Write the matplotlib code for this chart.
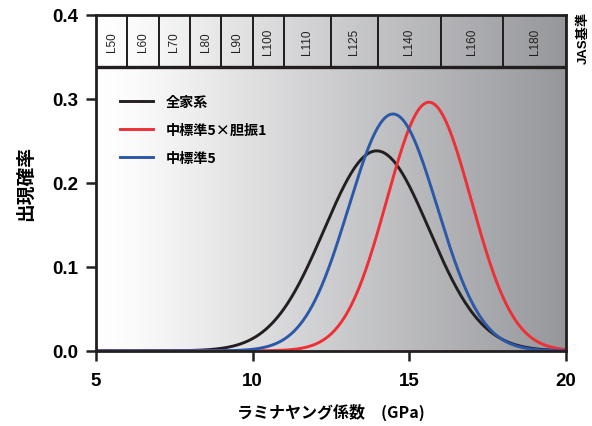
import numpy as np
import matplotlib.pyplot as plt
from matplotlib.colors import LinearSegmentedColormap
from matplotlib.patches import Rectangle

plt.rcParams['font.family'] = ['Liberation Sans', 'Noto Sans CJK JP', 'DejaVu Sans']

# JAS grade bands (GPa)
grades = ["L50", "L60", "L70", "L80", "L90", "L100", "L110", "L125", "L140", "L160", "L180"]
grade_edges = [5, 6, 7, 8, 9, 10, 11, 12.5, 14, 16, 18, 20]

# normal distributions
series_names = ["全家系", "中標準5×胆振1", "中標準5"]
series_mean = [13.96, 15.63, 14.48]
series_sd = [1.676, 1.348, 1.415]
series_colors = ["#231f20", "#ee2f36", "#2c58a8"]

xticks = [5, 10, 15, 20]
yticks = [0.0, 0.1, 0.2, 0.3, 0.4]

fig = plt.figure(figsize=(5.92, 4.27), dpi=100)
ax = fig.add_axes([0.162, 0.176, 0.794, 0.787])

# background gradient
cmap = LinearSegmentedColormap.from_list(
    "bg", [(0.0, "#ffffff"), (0.08, "#fbfbfb"), (1.0, "#96979b")])
grad = np.linspace(0, 1, 256).reshape(1, -1)
ax.imshow(grad, cmap=cmap, extent=[5, 20, 0, 0.4], aspect="auto",
          zorder=0, interpolation="bilinear")

band_lo = 0.338
for lab, x0, x1 in zip(grades, grade_edges[:-1], grade_edges[1:]):
    ax.add_patch(Rectangle((x0, band_lo), x1 - x0, 0.4 - band_lo, fill=False,
                           edgecolor="#231f20", lw=1.3, zorder=3))
    ax.text((x0 + x1) / 2, (band_lo + 0.4) / 2, lab, rotation=90,
            ha="center", va="center", fontsize=8.5, color="#231f20", zorder=4)
ax.plot([5, 20], [band_lo, band_lo], color="#231f20", lw=2.4, zorder=4)
ax.text(1.038, 0.935, "JAS基準", transform=ax.transAxes, rotation=90,
        ha="center", va="center", fontsize=9.5, fontweight="bold",
        family=["Liberation Sans", "Noto Sans CJK JP"])

x = np.linspace(5, 20, 600)
for name, mu, sd, c in zip(series_names, series_mean, series_sd, series_colors):
    y = np.exp(-0.5 * ((x - mu) / sd) ** 2) / (sd * np.sqrt(2 * np.pi))
    ax.plot(x, y, color=c, lw=2.1, label=name, zorder=2)

leg = ax.legend(loc="upper left", bbox_to_anchor=(0.025, 0.8), frameon=False,
                handlelength=2.3, handletextpad=0.9, labelspacing=1.0,
                prop={"family": ["Noto Sans CJK JP"], "weight": "bold", "size": 10.2})

ax.set_xlim(5, 20)
ax.set_ylim(0, 0.4)
ax.set_xticks(xticks)
ax.set_yticks(yticks)
ax.set_yticklabels([f"{v:.1f}" for v in yticks])
for s in ax.spines.values():
    s.set_linewidth(2.0)
    s.set_color("#231f20")
    s.set_zorder(5)
ax.tick_params(direction="out", length=7, width=1.8, color="#231f20",
               labelsize=13.5)
ax.tick_params(axis="x", pad=8)
ax.tick_params(axis="y", pad=6)
for t in ax.get_xticklabels() + ax.get_yticklabels():
    t.set_fontweight("bold")

ax.set_xlabel("ラミナヤング係数　(GPa)", fontsize=11.5, fontweight="bold",
              family=["Noto Sans CJK JP"], labelpad=10)
ax.set_ylabel("出現確率", fontsize=13.5, fontweight="bold",
              family=["Noto Sans CJK JP"], labelpad=12)

fig.savefig("out.png", dpi=100)
